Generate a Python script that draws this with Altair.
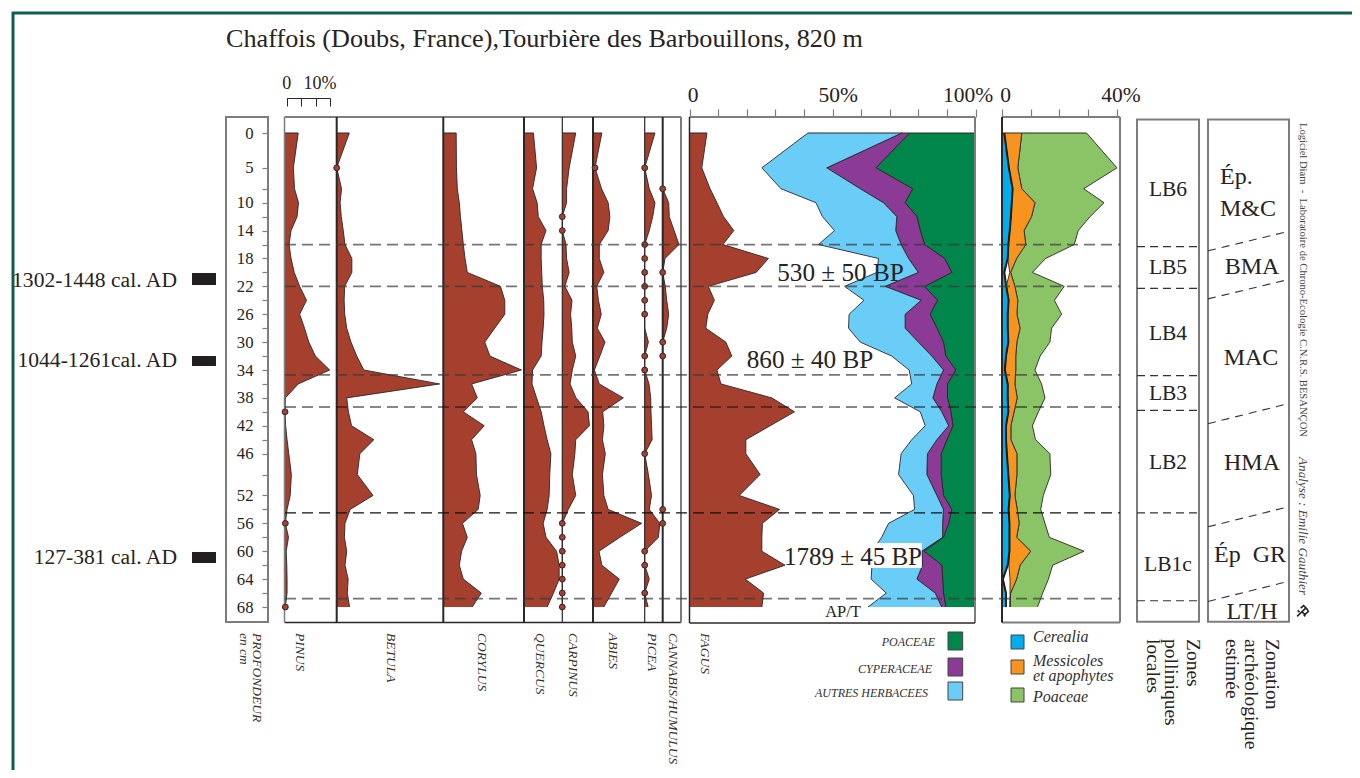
import altair as alt
import pandas as pd

W, H = 1344, 762
SERIF = "Liberation Serif"
DARK = "#2b2726"
GREY = "#7d7d7d"
BROWN = "#a5402f"
NB = "\u00a0"

depth = [0,5,8,10,12,14,16,18,20,22,24,26,28,30,32,34,36,38,40,42,44,46,49,52,54,56,58,60,62,64,66,68]
labelled_depth = [0,5,10,14,18,22,26,30,34,38,42,46,52,56,60,64,68]

pinus = [4.8,3.1,3.5,4.9,4.4,2.3,1.6,2.3,3.4,5.3,7.7,5.3,7,8.5,10.8,15.8,4.8,.3,.2,.4,.9,1.5,2.4,2,.9,.3,1.4,.6,.8,.9,.9,.3]
betula = [4.4,0,1.7,1.2,1.6,2.3,2.9,5.3,5.3,2.8,2.6,2.8,3.5,5,7,9.5,36,3.5,4.1,5.2,13,8.1,7.2,12.7,4.7,2.9,2.7,3.5,2.9,4,3.7,4.5]
corylus = [4.5,4.6,4.9,5.6,6,6.5,7,7.6,8.4,20,21.5,21.5,18,14.5,16.3,27.3,9.9,11.9,7,14.3,9.9,11.4,11.6,12.9,12.2,6.7,8.4,6.4,5.6,7,13.3,10.1]
quercus = [3.3,4.4,3,4.6,5,7.7,6,6,6.2,6.4,6.9,7,6.7,6.3,6,3,2.8,4.4,6,7,8.1,9.4,9,8.8,8.1,6.7,7.7,11.4,12.3,12.3,10.3,8.1]
carpinus = [4.7,2.4,1.5,1.5,0,0,1.3,1.5,2.4,.9,3.4,2.9,3.3,3.5,4.7,3.5,2.7,4.8,9,9.5,4.7,4.4,3.5,4.7,2.1,0,0,0,0,0,0,0]
abies = [3.1,.7,3,5.3,5.9,5.3,2.2,2.2,3.8,1.3,1.9,2.9,1.5,4.2,2.4,.5,2.2,10.6,3.4,3.8,3.3,4.3,3.3,3.8,5.3,17,9.4,2.1,3.1,9.2,6.5,3.8]
picea = [3.6,0,1.6,3.6,2.8,1.6,0,0,0,0,0,0,0,1.3,0,0,1.5,2.1,2.2,2.4,2.6,0,1.3,2.4,1.6,5.3,4.8,0,0,1.6,0,1.2]
cannabis_depth = [8,10,12,14,16,18,20,22,24,26,28,30,32,34,36,38,40,42,44,46,49,52,54,56]
cannabis = [0,2.1,2.3,4,5.7,.8,0,.9,1.4,2.1,1.4,0,0,0,0,0,0,0,0,0,0,0,0,0]

pinus_pts = [40,56,68]
betula_pts = [5]
carpinus_pts = [12,14,56,58,60,62,64,66,68]
abies_pts = [5]
picea_pts = [5,16,18,20,22,24,26,32,34,46,60,62,66]
cannabis_pts = [8,20,30,32,54,56]

fagus = [6.1,4.3,7.2,9.6,11.9,15.5,11.7,27.6,23.3,6.6,8.7,6.4,5.7,12.7,14.8,9.6,11,28.8,36.7,28.2,19.7,19.7,24.7,17.4,31.5,25.5,25.3,25.3,33.4,19.5,25.9,25.3]
herb_left = [41.4,25.3,32,44.2,46.5,50.7,45.1,66.1,65.5,54.2,61,55.8,55.6,59.7,70.7,76.8,77.7,71.7,80.7,82.4,77.7,74,73.1,78.3,78.7,69.6,67.2,63.8,63.8,63.5,68.8,62.4]
cyper_left = [74.2,48,59.7,67.8,72.5,72.1,74,76.6,80,68.4,81,75.4,75.4,80,84.7,88.8,86.5,85.1,88.2,90.6,86.5,83.2,83,86.5,88.8,88.5,88.5,81.2,81.5,79.5,85.9,88.2]
poa_left = [76.9,65.2,78,75.4,79.5,80.7,82.2,89.2,91.7,82.2,86.7,84.1,86.5,88.8,89.6,93.1,90.2,90.2,91.4,92.1,90,88,88,88.8,91.7,90.6,88.8,82,88.2,88.5,88.8,89.6]
total = [100] * 32

cerealia = [.8,2.4,3.7,3.4,3.1,2.7,2.2,2,.8,1.5,2.3,2,2,2.2,1.4,1,2,2,2.2,1.4,1.4,1.7,2.2,2.7,2.3,2.6,2.6,2.6,2,.3,1.4,1.4]
mess_base = [.8,2.4,3.7,3.4,3.1,2.7,2.2,2,2.7,1.5,2.3,2,2,2.2,1.4,1,2,2,2.2,1.4,1.4,1.7,2.2,2.7,2.3,2.6,2.6,2.6,2.4,2.8,2.8,2.8]
mess_top = [6.9,5.5,6.9,11.5,10.3,7.7,8.3,5.1,3,4.5,5.5,5.2,6.3,5.2,4.8,4.8,4.5,5.3,4.2,3.1,3.1,5.2,5.2,4.5,5.3,6,5.1,10,6.3,5.1,3,2.8]
poa_top = [29.5,40.1,28.5,35.6,30.7,26.6,25.2,15.2,10.6,21.7,18.3,20.8,17.3,16.7,13.3,11.5,13.8,15,12.7,10.6,11.7,16.7,17,14.4,13.5,15,16.5,28.6,17.7,16.2,14.2,12.4]

zones_grey = [16, 22, 34.7, 66.8]
zones_dark = [39.3, 54.5]
lb_lines = [16.3, 22.3, 34.8, 39.8, 54.5, 67.1]
arch_lines = [(16.9,14.1),(23.8,21),(41.7,38.8),(56.5,53.6),(67.2,64.3)]

df = pd.DataFrame(dict(d=depth, pinus=pinus, betula=betula, corylus=corylus, quercus=quercus,
                       carpinus=carpinus, abies=abies, picea=picea, fagus=fagus, herb_left=herb_left,
                       cyper_left=cyper_left, poa_left=poa_left, total=total, cerealia=cerealia,
                       mess_base=mess_base, mess_top=mess_top, poa_top=poa_top))
df["zero"] = 0
df_can = pd.DataFrame(dict(d=cannabis_depth, cannabis=cannabis))
df_can["zero"] = 0

yscale = alt.Scale(domain=[0, 68], range=[125, 599], nice=False, zero=False)
Y = alt.Y("d:Q", scale=yscale, axis=None)
layers = []


def xs(base_px, dmax=100.0, rate=2.86):
    return alt.Scale(domain=[0, dmax], range=[base_px - 8, base_px - 8 + dmax * rate], nice=False, zero=False)


def edge(field, scale, data):
    layers.append(alt.Chart(data).mark_line(color=DARK, strokeWidth=0.9).encode(
        x=alt.X(f"{field}:Q", scale=scale, axis=None), y=Y, order=alt.Order("d:Q")))


def panel_area(field, base_px, data=df, fill=BROWN, left=None, dmax=100.0, rate=2.86):
    scale = xs(base_px, dmax, rate)
    lf = left or "zero"
    layers.append(alt.Chart(data).mark_area(orient="horizontal", fill=fill, fillOpacity=1).encode(
        x=alt.X(f"{lf}:Q", scale=scale, axis=None), x2=alt.X2(f"{field}:Q"), y=Y))
    edge(field, scale, data)
    if left:
        edge(left, scale, data)
    first = data[data["d"] == data["d"].min()]
    layers.append(alt.Chart(first).mark_rule(color=DARK, strokeWidth=1).encode(
        x=alt.X(f"{lf}:Q", scale=scale, axis=None), x2=alt.X2(f"{field}:Q"), y=Y))


def panel_pts(field, base_px, pts, data=df):
    sub = data[data["d"].isin(pts)]
    layers.append(alt.Chart(sub).mark_point(filled=False, fill=BROWN, fillOpacity=1, stroke=DARK, strokeWidth=1, size=34, shape="circle", opacity=1)
                  .encode(x=alt.X(f"{field}:Q", scale=xs(base_px), axis=None), y=Y))


def seg(x0, x1, y0, y1=None, color=GREY, sw=1.5, dash=None):
    kw = dict(color=color, strokeWidth=sw)
    if dash:
        kw["strokeDash"] = dash
    enc = dict(x=alt.value(x0 - 8), y=alt.value(y0 - 8))
    if x1 != x0:
        enc["x2"] = alt.value(x1 - 8)
    if y1 is not None:
        enc["y2"] = alt.value(y1 - 8)
    layers.append(alt.Chart().mark_rule(**kw).encode(**enc))


def box(x0, x1, y0, y1, color=GREY, sw=2):
    layers.append(alt.Chart().mark_rect(fillOpacity=0, stroke=color, strokeWidth=sw).encode(
        x=alt.value(x0 - 8), x2=alt.value(x1 - 8), y=alt.value(y0 - 8), y2=alt.value(y1 - 8)))


def filled(x0, x1, y0, y1, fill, stroke=None):
    kw = dict(fill=fill, fillOpacity=1)
    if stroke:
        kw.update(stroke=stroke, strokeWidth=1)
    layers.append(alt.Chart().mark_rect(**kw).encode(
        x=alt.value(x0 - 8), x2=alt.value(x1 - 8), y=alt.value(y0 - 8), y2=alt.value(y1 - 8)))


def label(txt, x, y, size=16, align="center", angle=0, style="normal", color="#262322"):
    kw = dict(fontSize=size, font=SERIF, align=align, baseline="middle", color=color, fontStyle=style)
    if angle:
        kw["angle"] = angle
    layers.append(alt.Chart().mark_text(**kw).encode(x=alt.value(x - 8), y=alt.value(y - 8), text=alt.value(txt)))


# teal page frame
seg(12, 1352, 13, color="#0f5c52", sw=3)
seg(13, 13, 12, 770, color="#0f5c52", sw=3)

# depth axis carrier
layers.append(alt.Chart(df).mark_point(opacity=0).encode(
    x=alt.value(0),
    y=alt.Y("d:Q", scale=yscale, axis=alt.Axis(
        orient="left", offset=-260, values=depth, tickSize=6, tickColor=GREY, tickWidth=1.2, domain=False,
        grid=False, title=None, labelFont=SERIF, labelFontSize=16.7, labelColor="#262322", labelPadding=9,
        labelOverlap=False, labelBound=False, labelFlush=False,
        labelExpr="indexof([" + ",".join(str(v) for v in labelled_depth) + "], datum.value) >= 0 ? datum.value : ''"))))

# pollen panels
panel_area("pinus", 284.5)
panel_area("betula", 336.7)
panel_area("corylus", 443.3)
panel_area("quercus", 524)
panel_area("carpinus", 562.3)
panel_area("abies", 593)
panel_area("picea", 644.7)
panel_area("cannabis", 662.7, data=df_can[df_can["d"] <= 32])

# Fagus / herbs stacked panel
panel_area("total", 689.5, fill="#00854a", left="poa_left")
panel_area("poa_left", 689.5, fill="#8b3a96", left="cyper_left")
panel_area("cyper_left", 689.5, fill="#69cdf7", left="herb_left")
panel_area("fagus", 689.5)

# Cereal panel
panel_area("poa_top", 1002, fill="#8ac466", left="mess_top", dmax=40, rate=2.867)
panel_area("mess_top", 1002, fill="#f7941d", left="mess_base", dmax=40, rate=2.867)
panel_area("cerealia", 1002, fill="#00aeef", dmax=40, rate=2.867)
layers.append(alt.Chart(df).mark_line(color="#1c1a1a", strokeWidth=2).encode(
    x=alt.X("cerealia:Q", scale=xs(1002, 40, 2.867), axis=None), y=Y, order=alt.Order("d:Q")))

# panel frames
seg(284.5, 681, 117, color=GREY, sw=2)
seg(284.5, 681, 622.5, color=DARK, sw=1.5)
seg(284.5, 284.5, 117, 622.5, color=GREY, sw=1.5)
for xv, sw in [(336.7, 2), (443.3, 2), (524, 2), (562.3, 1.2), (593, 2), (644.7, 1.2), (662.7, 2)]:
    seg(xv, xv, 117, 622.5, color=DARK, sw=sw)
seg(681, 681, 117, 622.5, color=GREY, sw=2)
box(226, 268, 117, 622)
seg(689.5, 975, 117, color=GREY, sw=2)
seg(975, 975, 117, 623, color=GREY, sw=2)
seg(689.5, 975, 623, color=DARK, sw=1.5)
seg(689.5, 689.5, 117, 623, color=DARK, sw=1.5)
seg(1002, 1120, 117, color=GREY, sw=2)
seg(1120, 1120, 117, 622.5, color=GREY, sw=2)
seg(1002, 1120, 622.5, color=GREY, sw=2)
seg(1002, 1002, 117, 622.5, color=DARK, sw=2)
box(1137, 1199, 119.5, 621.7)
box(1208, 1289, 119.5, 621.7)

# pollen markers
panel_pts("pinus", 284.5, pinus_pts)
panel_pts("betula", 336.7, betula_pts)
panel_pts("carpinus", 562.3, carpinus_pts)
panel_pts("abies", 593, abies_pts)
panel_pts("picea", 644.7, picea_pts)
panel_pts("cannabis", 662.7, cannabis_pts, data=df_can)

# Zone dashes
for vals, color, sw, op in [(zones_grey, "#3a3a3a", 1.8, 0.7), (zones_dark, "#111111", 1.1, 1)]:
    layers.append(alt.Chart(pd.DataFrame({"d": vals})).mark_rule(color=color, strokeWidth=sw, opacity=op, strokeDash=[11, 6]).encode(
        x=alt.value(285 - 8), x2=alt.value(1120 - 8), y=Y))
layers.append(alt.Chart(pd.DataFrame({"d": lb_lines})).mark_rule(color="#333333", strokeWidth=1.2, strokeDash=[8, 5]).encode(
    x=alt.value(1137 - 8), x2=alt.value(1199 - 8), y=Y))
arch_scale = alt.Scale(domain=[0, 1], range=[1208 - 8, 1289 - 8], nice=False, zero=False)
for a, b in arch_lines:
    layers.append(alt.Chart(pd.DataFrame({"u": [0, 1], "d": [a, b]})).mark_line(color="#333333", strokeWidth=1.1, strokeDash=[8, 6]).encode(
        x=alt.X("u:Q", scale=arch_scale, axis=None), y=Y, order=alt.Order("u:Q")))

# Top axes
layers.append(alt.Chart(pd.DataFrame({"v": [0, 15], "d": [0, 0]})).mark_point(opacity=0).encode(
    x=alt.X("v:Q", scale=alt.Scale(domain=[0, 15], range=[286.7 - 8, 330 - 8], nice=False, zero=False),
            axis=alt.Axis(orient="bottom", offset=-(H - 90), values=[0, 5, 10, 15], labels=False, grid=False, title=None,
                          domainColor=DARK, tickColor=DARK, tickSize=8, domainWidth=1, tickWidth=1)),
    y=Y))
layers.append(alt.Chart(pd.DataFrame({"v": [0, 100], "d": [0, 0]})).mark_point(opacity=0).encode(
    x=alt.X("v:Q", scale=xs(689.5), axis=alt.Axis(orient="top", offset=-109, values=list(range(0, 101, 10)), labels=False,
                                                 grid=False, title=None, domain=False, tickColor=GREY, tickSize=8, tickWidth=1.2)),
    y=Y))
layers.append(alt.Chart(pd.DataFrame({"v": [0, 40], "d": [0, 0]})).mark_point(opacity=0).encode(
    x=alt.X("v:Q", scale=xs(1002, 40, 2.867), axis=alt.Axis(orient="top", offset=-109, values=[0, 10, 20, 30, 40], labels=False,
                                                           grid=False, title=None, domain=False, tickColor=GREY, tickSize=8, tickWidth=1.2)),
    y=Y))

# white plate of the date label
filled(785, 921.7, 543, 568, "white")

# Text
label("Chaffois (Doubs, France),Tourbière des Barbouillons, 820 m", 226, 39, size=26.2, align="left")
label("0", 286.7, 84, 18)
label("10%", 320, 84, 18)
label("0", 693, 96, 21.5)
label("50%", 838.3, 96, 21.5)
label("100%", 968, 96, 21.5)
label("0", 1005.7, 96, 21.5)
label("40%", 1121, 96, 21.5)
label("530 ± 50 BP", 840.5, 273, 25.2)
label("860 ± 40 BP", 810, 360, 25.2)
label("1789 ± 45 BP", 853, 557, 25)
label("AP/T", 843, 612, 16.5)

for txt, y in [("1302-1448 cal. AD", 281), ("1044-1261cal. AD", 361), ("127-381 cal. AD", 558)]:
    label(txt, 177, y, 21.6, align="right")
for y0, y1 in [(273, 285), (356, 366), (552, 563)]:
    filled(192, 216, y0, y1, "#231f20")

for txt, y in [("LB6", 190), ("LB5", 268), ("LB4", 334), ("LB3", 394), ("LB2", 463), ("LB1c", 565)]:
    label(txt, 1168, y, 21.5)
label("Ép.", 1220, 177, 24, align="left")
label("M&C", 1220, 209, 24, align="left")
label("BMA", 1252, 267, 24)
label("MAC", 1251, 358, 24)
label("HMA", 1252, 463, 24)
label(f"Ép{NB}{NB}GR", 1214, 555, 24, align="left")
label("LT/H", 1252, 612, 24)

taxa = [("PROFONDEUR", 257.3), ("en cm", 244), ("PINUS", 300), ("BETULA", 390.7), ("CORYLUS", 481.7), ("QUERCUS", 540),
        ("CARPINUS", 573.3), ("ABIES", 612.7), ("PICEA", 651.7), ("CANNABIS/HUMULUS", 673.3), ("FAGUS", 705)]
for txt, x in taxa:
    label(txt, x, 633, 13.5, align="left", angle=90, style="italic", color="#333030")

for txt, x in [("Zones", 1193), ("polliniques", 1170.7), ("locales", 1153),
               ("Zonation", 1271.7), ("archéologique", 1251), ("estimée", 1231.7)]:
    label(txt, x, 639, 19.5, align="left", angle=90)

label(f"Logiciel Diam{NB}{NB}-{NB}{NB}Laboratoire de Chrono-Ecologie C.N.R.S. BESANÇON", 1303, 123, 10.6, align="left", angle=90, color="#444444")
label("Analyse : Emilie Gauthier", 1303, 457, 13.2, align="left", angle=90, style="italic", color="#444444")
layers.append(alt.Chart().mark_point(shape="M-1,.9L.6,-.6M-.4,-.5L.1,-.9L.7,-.3L.9,.1L.3,.6L-.2,.1M-.6,.2L-.9,-.1M.1,.6L.4,.9",
                                     size=140, stroke="#222222", strokeWidth=1.6, filled=False, opacity=1).encode(
    x=alt.value(1303 - 8), y=alt.value(611 - 8)))

# Legends
for txt, y0, fill, ty, tx in [("POACEAE", 632, "#00854a", 642, 935), ("CYPERACEAE", 658, "#8b3a96", 669, 932), ("AUTRES HERBACEES", 682, "#69cdf7", 692.7, 928)]:
    filled(948, 962.7, y0, y0 + 18, fill, stroke="#444444")
    label(txt, tx, ty, 12, align="right", style="italic", color="#333030")
for y0, fill in [(635, "#00aeef"), (660, "#f7941d"), (688, "#8ac466")]:
    filled(1011, 1024, y0, y0 + 14, fill, stroke="#444444")
for txt, y in [("Cerealia", 637), ("Messicoles", 661), ("et apophytes", 676), ("Poaceae", 697)]:
    label(txt, 1033, y, 16, align="left", style="italic", color="#333030")

chart = alt.layer(*layers).resolve_scale(x="independent", y="shared").resolve_axis(y="independent").properties(
    width=W, height=H, padding=0, autosize=alt.AutoSizeParams(type="none"),
).configure_view(stroke=None).configure_axis(grid=False)

chart.save("out.html", embed_options={"renderer": "svg", "actions": False})
